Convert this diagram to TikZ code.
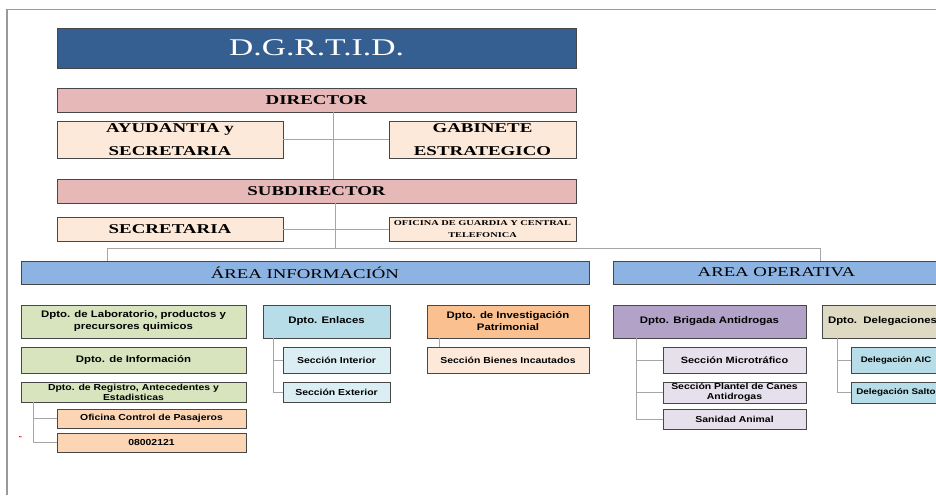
\documentclass[tikz,border=0pt]{standalone}
\usepackage{fontspec}
\setmainfont{Liberation Serif}
\newfontfamily\serifw{Liberation Serif}[FakeStretch=1.4]
\newfontfamily\sansw{Liberation Sans}[FakeStretch=1.2]
\definecolor{cDG}{HTML}{365F91}
\definecolor{cPink}{HTML}{E6B9B8}
\definecolor{cPeach}{HTML}{FDE9D9}
\definecolor{cArea}{HTML}{8DB3E2}
\definecolor{cGreen}{HTML}{D7E4BD}
\definecolor{cAqua}{HTML}{B7DEE8}
\definecolor{cAquaL}{HTML}{DBEEF4}
\definecolor{cOrange}{HTML}{FAC090}
\definecolor{cOrangeL}{HTML}{FCD5B5}
\definecolor{cPurple}{HTML}{B3A2C7}
\definecolor{cPurpleL}{HTML}{E5E0EC}
\definecolor{cTan}{HTML}{DDD9C3}
\begin{document}
\begin{tikzpicture}[x=1pt,y=-1pt,
  box/.style={draw=black!72, line width=0.9pt, inner sep=0pt, align=center},
  link/.style={draw=black!35, line width=0.9pt},
  topbox/.style={box, font={\serifw\bfseries\fontsize{13.5}{23}\selectfont}},
  areabox/.style={box, fill=cArea, font={\serifw\fontsize{13.4}{16}\selectfont}},
  dpt/.style={box, font={\sansw\bfseries\fontsize{9.5}{12}\selectfont}},
  sct/.style={box, font={\sansw\bfseries\fontsize{8.7}{10}\selectfont}}
]
\useasboundingbox (0,0) rectangle (936,495);
\clip (0,0) rectangle (936,495);
\fill[white] (0,0) rectangle (936,495);
% page frame
\draw[black!40, line width=1.5pt] (7,495) -- (7,9.5) -- (936,9.5);

% top part
\node[box, fill=cDG, text=white, minimum width=519pt, minimum height=40pt,
      font={\serifw\fontsize{24}{24}\selectfont}] (dg) at (316.5,48) {D.G.R.T.I.D.};
\node[topbox, fill=cPink, minimum width=519pt, minimum height=24pt] (dir) at (316.5,100) {DIRECTOR};
\node[topbox, fill=cPeach, minimum width=226pt, minimum height=37pt] (ayu) at (170,139.5) {AYUDANTIA y\\SECRETARIA};
\node[topbox, fill=cPeach, minimum width=187pt, minimum height=37pt] (gab) at (482.5,139.5) {GABINETE\\ESTRATEGICO};
\node[topbox, fill=cPink, minimum width=519pt, minimum height=24pt] (sub) at (316.5,191) {SUBDIRECTOR};
\node[topbox, fill=cPeach, minimum width=226pt, minimum height=24pt] (sec) at (170,229) {SECRETARIA};
\node[box, fill=cPeach, minimum width=187pt, minimum height=24pt,
      font={\serifw\bfseries\fontsize{7.4}{12}\selectfont}] (ofi) at (482.5,229) {OFICINA DE GUARDIA Y CENTRAL\\TELEFONICA};

% areas
\node[areabox, minimum width=568pt, minimum height=23pt] (ainf) at (305,272.5) {ÁREA INFORMACIÓN};
\node[areabox, minimum width=327pt, minimum height=23pt] (aop) at (776.5,272.5) {AREA OPERATIVA};

% area informacion departments
\node[dpt, fill=cGreen, minimum width=225pt, minimum height=33pt] (lab) at (133.5,321.5) {Dpto. de Laboratorio, productos y\\precursores quimicos};
\node[dpt, fill=cGreen, minimum width=225pt, minimum height=26pt] (inf) at (133.5,360) {Dpto. de Información};
\node[sct, fill=cGreen, minimum width=225pt, minimum height=20pt] (reg) at (133.5,392) {Dpto. de Registro, Antecedentes y\\Estadisticas};
\node[sct, fill=cOrangeL, minimum width=189pt, minimum height=19pt] (pas) at (151.5,418.5) {Oficina Control de Pasajeros};
\node[sct, fill=cOrangeL, minimum width=189pt, minimum height=19pt] (num) at (151.5,442.5) {08002121};

\node[dpt, fill=cAqua, minimum width=127pt, minimum height=33pt] (enl) at (326.5,321.5) {Dpto. Enlaces};
\node[sct, fill=cAquaL, minimum width=107pt, minimum height=26pt] (sint) at (336.5,360) {Sección Interior};
\node[sct, fill=cAquaL, minimum width=107pt, minimum height=20pt] (sext) at (336.5,392) {Sección Exterior};

\node[dpt, fill=cOrange, minimum width=162pt, minimum height=33pt] (inv) at (508,321.5) {Dpto. de Investigación\\Patrimonial};
\node[sct, fill=cPeach, minimum width=162pt, minimum height=26pt] (bien) at (508,360) {Sección Bienes Incautados};

% area operativa departments
\node[dpt, fill=cPurple, minimum width=193pt, minimum height=33pt] (bri) at (709.5,321.5) {Dpto. Brigada Antidrogas};
\node[sct, fill=cPurpleL, minimum width=143pt, minimum height=26pt,
      font={\sansw\bfseries\fontsize{9.1}{10}\selectfont}] (mic) at (734.5,360) {Sección Microtráfico};
\node[sct, fill=cPurpleL, minimum width=143pt, minimum height=21pt] (pla) at (734.5,392.5) {Sección Plantel de Canes\\Antidrogas};
\node[sct, fill=cPurpleL, minimum width=143pt, minimum height=20pt] (san) at (734.5,419) {Sanidad Animal};

\node[dpt, fill=cTan, minimum width=121pt, minimum height=33pt] (del) at (882.5,321.5) {Dpto.~~Delegaciones};
\node[sct, fill=cAqua, minimum width=90pt, minimum height=26pt,
      font={\sansw\bfseries\fontsize{8}{10}\selectfont}] (aic) at (896,360) {Delegación AIC};
\node[sct, fill=cAqua, minimum width=90pt, minimum height=21pt,
      font={\sansw\bfseries\fontsize{8.2}{10}\selectfont}] (sal) at (896,392.5) {Delegación Salto};

% junction coordinates
\coordinate (jd) at (333,140);
\coordinate (js) at (335,248);
\coordinate (jl) at (107,248);
\coordinate (jr) at (820,248);
\coordinate (xreg) at (33,0);
\coordinate (xenl) at (273,0);
\coordinate (xinv) at (439,0);
\coordinate (xbri) at (636,0);
\coordinate (xdel) at (837,0);

% connectors
\draw[link] (dir.south -| jd) -- (sub.north -| jd);
\draw[link] (ayu.east) -- (gab.west);
\draw[link] (sub.south -| js) -- (js);
\draw[link] (sec.east) -- (ofi.west);
\draw[link] (ainf.north -| jl) -- (jl) -- (jr) -- (aop.north -| jr);
\draw[link] (reg.south -| xreg) |- (pas.west);
\draw[link] (reg.south -| xreg) |- (num.west);
\draw[link] (enl.south -| xenl) |- (sint.west);
\draw[link] (enl.south -| xenl) |- (sext.west);
\draw[link] (inv.south -| xinv) -- (bien.north -| xinv);
\draw[link] (bri.south -| xbri) |- (mic.west);
\draw[link] (bri.south -| xbri) |- (pla.west);
\draw[link] (bri.south -| xbri) |- (san.west);
\draw[link] (del.south -| xdel) |- (aic.west);
\draw[link] (del.south -| xdel) |- (sal.west);
% small red mark
\draw[red, line width=0.8pt] (19,436.5) -- (21.5,437);
\end{tikzpicture}
\end{document}
